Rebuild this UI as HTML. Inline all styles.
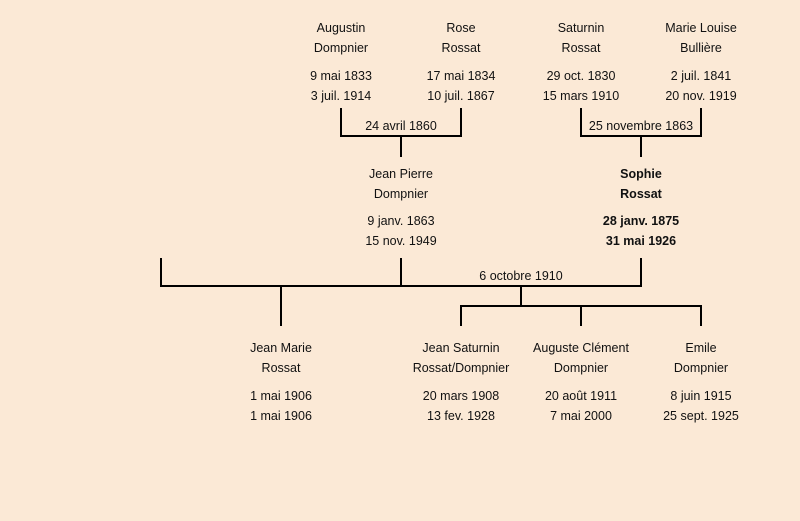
<!DOCTYPE html>
<html><head><meta charset="utf-8"><style>
html,body{margin:0;padding:0;background:#fbe9d6;}
svg{display:block;}
text{font-family:"Liberation Sans",sans-serif;font-size:12.5px;fill:#111;text-anchor:middle;}
.b{font-weight:bold;}
</style></head><body>
<svg width="800" height="521" viewBox="0 0 800 521">
<rect width="800" height="521" fill="#fbe9d6"/>
<g stroke="#000" stroke-width="2" fill="none">
<path d="M341 108V136H461V108M401 136V157"/>
<path d="M581 108V136H701V108M641 136V157"/>
<path d="M161 258V286H641V258M401 258V286M281 286V326M521 286V306M461 326V306H701V326M581 306V326"/>
</g>
<g>
<text x="341" y="32">Augustin</text><text x="341" y="52">Dompnier</text>
<text x="341" y="80">9 mai 1833</text><text x="341" y="100">3 juil. 1914</text>
<text x="461" y="32">Rose</text><text x="461" y="52">Rossat</text>
<text x="461" y="80">17 mai 1834</text><text x="461" y="100">10 juil. 1867</text>
<text x="581" y="32">Saturnin</text><text x="581" y="52">Rossat</text>
<text x="581" y="80">29 oct. 1830</text><text x="581" y="100">15 mars 1910</text>
<text x="701" y="32">Marie Louise</text><text x="701" y="52">Bullière</text>
<text x="701" y="80">2 juil. 1841</text><text x="701" y="100">20 nov. 1919</text>
<text x="401" y="130">24 avril 1860</text>
<text x="641" y="130">25 novembre 1863</text>
<text x="401" y="178">Jean Pierre</text><text x="401" y="198">Dompnier</text>
<text x="401" y="225">9 janv. 1863</text><text x="401" y="245">15 nov. 1949</text>
<text class="b" x="641" y="178">Sophie</text><text class="b" x="641" y="198">Rossat</text>
<text class="b" x="641" y="225">28 janv. 1875</text><text class="b" x="641" y="245">31 mai 1926</text>
<text x="521" y="280">6 octobre 1910</text>
<text x="281" y="352">Jean Marie</text><text x="281" y="372">Rossat</text>
<text x="281" y="400">1 mai 1906</text><text x="281" y="420">1 mai 1906</text>
<text x="461" y="352">Jean Saturnin</text><text x="461" y="372">Rossat/Dompnier</text>
<text x="461" y="400">20 mars 1908</text><text x="461" y="420">13 fev. 1928</text>
<text x="581" y="352">Auguste Clément</text><text x="581" y="372">Dompnier</text>
<text x="581" y="400">20 août 1911</text><text x="581" y="420">7 mai 2000</text>
<text x="701" y="352">Emile</text><text x="701" y="372">Dompnier</text>
<text x="701" y="400">8 juin 1915</text><text x="701" y="420">25 sept. 1925</text>
</g>
</svg>
</body></html>
